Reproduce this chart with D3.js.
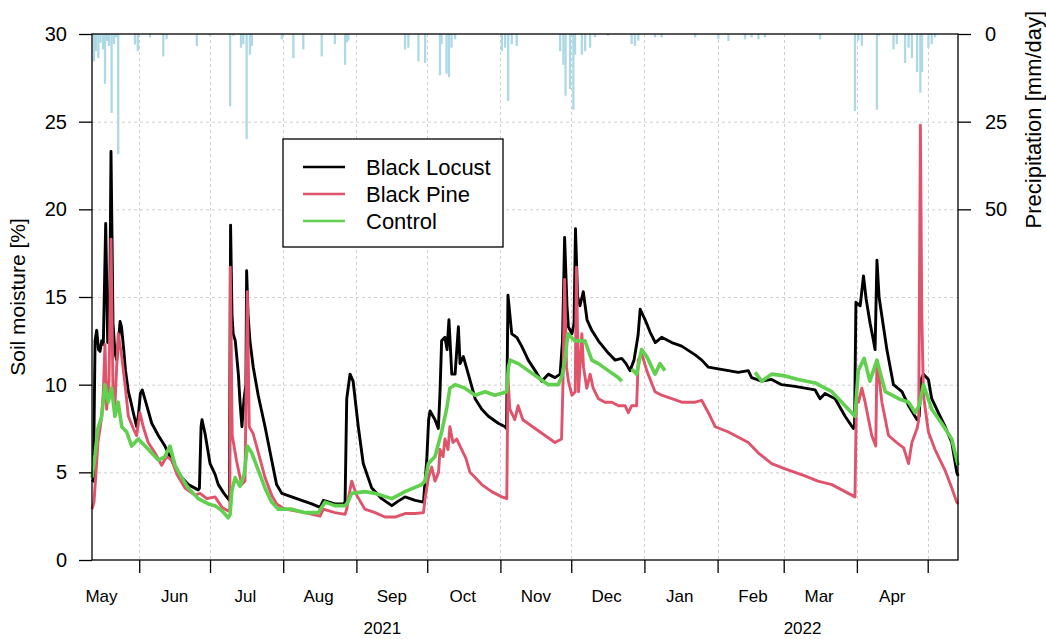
<!DOCTYPE html>
<html>
<head>
<meta charset="utf-8">
<script src="https://cdn.jsdelivr.net/npm/d3@7/dist/d3.min.js"></script>
<style>
  body { margin: 0; background: #fff; }
  svg { display: block; }
  text { font-family: "Liberation Sans", Arial, Helvetica, sans-serif; fill: #000; }
</style>
</head>
<body>
<svg id="chart" width="1046" height="639"></svg>
<script>
// Soil moisture (%) per site; time is given as days since 2021-05-12 (UTC)
const locustDay = [0,0.6,1.3,2.0,2.75,3.4,4.1,4.8,5.8,6.65,7.4,8.05,8.9,9.75,10.5,11.2,11.9,12.5,13.3,14.2,15.4,16.5,17.5,18.9,19.7,20.5,21.3,23.2,25.3,28.1,30.9,33.0,35.2,38.0,40.8,45.0,45.5,46.2,46.6,47.9,50.0,52.1,53.5,55.9,58.2,58.7,59.3,59.8,60.7,62.0,62.7,63.5,64.4,65.2,65.5,66.1,66.9,68.3,70.4,73.3,76.1,78.2,80.4,84.6,88.8,93.1,96.6,98.0,102.9,106.5,107.2,107.9,109.3,110.6,112.8,114.9,118.5,122.7,127.0,129.1,132.6,136.9,140.4,141.8,142.6,143.2,145.3,146.7,147.4,148.1,149.5,150.4,151.2,152.4,153.8,155.2,155.9,157.3,159.4,162.3,165.1,167.9,172.1,175.0,175.6,176.2,177.8,179.9,182.0,184.8,187.7,190.5,193.3,196.1,198.3,199.3,200.2,201.2,201.8,203.3,204.2,204.8,205.7,206.7,208.1,209.7,211.7,214.5,218.7,221.6,224.4,226.2,227.9,229.6,231.3,232.2,234.3,236.4,238.6,241.3,245.6,249.8,255.5,258.3,261.1,265.3,269.6,273.7,278.0,279.4,283.7,287.9,292.1,297.8,302.0,306.3,308.4,310.5,314.8,319.0,322.5,323.0,323.6,324.5,325.4,326.8,327.9,329.6,330.9,331.7,332.5,333.4,334.6,336.7,339.5,343.1,345.9,349.5,350.4,351.2,352.2,354.3,355.7,358.5,361.4,364.2,366.3,366.9];
const locustMoisture = [4.6,4.5,12.5,13.1,12.0,11.9,12.5,12.3,19.2,12.4,12.6,23.3,13.5,11.8,11.4,12.5,13.6,13.3,12.2,10.8,9.6,9.0,8.4,7.6,8.3,9.5,9.7,8.8,7.8,7.1,6.5,5.9,5.3,4.7,4.3,4.0,4.1,7.6,8.0,7.2,5.5,4.9,4.3,3.8,3.4,19.1,14.0,12.9,12.5,10.6,9.0,7.6,9.2,10.0,16.5,14.0,12.5,11.0,9.4,7.6,5.7,4.3,3.8,3.6,3.4,3.2,3.0,3.4,3.2,3.2,3.3,9.2,10.6,10.2,7.6,5.5,4.1,3.5,3.1,3.3,3.6,3.4,3.3,5.7,8.0,8.5,8.0,7.5,9.5,12.5,12.7,12.0,13.7,10.6,10.6,13.3,11.2,11.6,10.6,9.2,8.6,8.2,7.8,7.6,7.5,15.1,12.9,12.7,12.2,11.4,10.8,10.2,10.6,10.4,10.6,12.5,18.4,14.5,13.3,12.9,13.5,18.9,15.0,14.5,15.3,13.7,13.1,12.5,11.8,11.4,11.5,11.2,10.8,11.4,12.8,14.3,13.7,13.0,12.4,12.7,12.4,12.2,11.7,11.4,11.0,10.9,10.8,10.7,10.8,10.4,10.2,10.3,10.0,9.9,9.8,9.7,9.2,9.5,9.2,8.2,7.5,7.6,14.7,14.6,14.5,16.2,14.9,13.5,12.6,12.0,17.1,15.0,13.9,12.0,10.0,9.6,8.8,8.0,8.2,10.3,10.6,10.3,9.2,8.4,7.6,6.7,5.0,4.8];

const pineDay = [0,0.85,1.7,2.5,3.4,4.1,4.8,5.5,6.2,7.2,8.05,8.9,9.7,11.1,12.6,14.0,15.4,17.5,18.9,20.3,21.7,23.8,26.7,29.5,31.6,33.8,35.9,39.4,43.6,45.8,48.6,52.1,55.1,57.7,58.4,58.6,59.4,61.3,63.4,64.8,65.8,66.6,68.3,70.5,73.3,76.1,78.2,81.8,86.0,90.2,96.6,98.0,102.9,107.2,107.9,108.6,110.0,112.1,115.6,119.9,124.1,128.4,132.6,136.9,140.4,141.1,142.5,143.9,145.3,146.8,147.4,148.7,149.5,150.8,151.6,152.9,154.5,156.6,158.4,160.1,162.3,165.1,169.3,173.6,175.7,176.2,177.0,179.1,180.5,182.5,187.7,191.9,196.1,198.9,199.5,200.2,201.0,201.8,203.3,204.7,205.2,206.1,207.5,208.2,209.6,211.0,212.3,214.5,217.3,220.2,223.0,225.8,227.2,228.6,230.7,231.4,232.8,235.0,238.5,241.3,245.6,249.8,255.5,258.3,261.1,264.0,269.6,273.8,278.0,282.3,287.9,293.6,297.8,302.0,307.5,313.4,319.0,323.2,323.8,324.7,326.1,327.5,330.3,332.0,332.5,334.6,337.4,340.9,343.8,345.9,347.3,349.5,350.2,350.9,351.5,352.2,354.3,357.1,361.4,364.2,366.3,366.9];
const pineMoisture = [2.9,3.3,5.0,6.7,7.5,8.2,9.6,12.3,8.6,10.2,18.3,9.6,8.8,12.9,11.6,10.0,8.2,7.5,7.1,8.4,7.6,6.7,6.1,5.4,5.9,5.7,4.9,4.1,3.7,3.8,3.5,3.6,3.0,2.8,2.9,16.7,7.1,5.6,4.3,4.5,15.3,7.6,7.2,6.1,4.7,3.7,3.2,2.9,2.8,2.7,2.5,2.9,2.7,2.6,2.9,3.5,4.5,3.7,2.9,2.7,2.45,2.45,2.65,2.65,2.7,3.5,4.7,5.3,4.5,5.0,6.3,5.9,6.9,6.3,7.6,6.7,6.9,6.3,5.8,5.0,4.7,4.3,3.9,3.6,3.5,10.4,8.6,8.0,8.8,8.0,7.5,7.1,6.7,6.9,10.0,16.0,11.0,10.2,9.4,9.6,16.7,9.6,12.9,11.0,9.8,10.6,9.8,9.2,9.0,9.0,8.8,8.8,8.4,8.8,8.8,11.4,11.8,10.8,9.6,9.4,9.2,9.0,9.0,9.1,8.4,7.6,7.3,7.0,6.7,6.1,5.5,5.2,5.0,4.8,4.5,4.3,3.9,3.6,9.2,9.0,9.8,9.0,7.1,6.5,11.4,9.0,7.1,6.7,6.4,5.5,6.7,7.5,8.0,24.8,14.0,9.4,7.3,6.3,5.1,4.1,3.3,3.2];

// null marks days without readings from the control plot
const controlDay = [0,1.3,2.5,4.1,5.5,6.8,8.3,9.7,11.1,12.6,14.7,16.8,19.6,22.5,25.3,28.1,30.9,33.0,35.2,38.0,40.8,45.0,49.3,52.1,55.1,57.7,58.5,59.2,60.6,62.7,64.5,65.8,67.7,70.5,73.3,76.1,78.9,84.6,90.2,95.9,98.7,102.9,107.2,108.4,110.0,115.6,119.9,127.0,132.6,139.6,141.1,142.5,145.3,148.1,150.2,151.6,153.8,158.0,162.3,166.5,170.7,175.7,176.4,177.1,180.6,184.8,189.1,193.3,197.5,199.1,200.3,201.6,204.5,208.8,211.7,214.5,218.7,223.0,224.4,226.5,228.6,230.7,232.8,235.0,237.1,238.5,240.6,242.7,260.0,280.9,283.7,287.9,293.6,299.1,306.3,313.4,319.0,323.2,324.6,327.1,329.5,332.5,336.0,338.9,341.7,345.9,348.7,350.4,352.2,355.7,359.9,364.2,366.3,366.9];
const controlMoisture = [4.7,6.0,7.5,8.2,10.0,9.0,9.8,8.2,9.0,7.6,7.3,6.5,6.9,6.5,6.1,5.7,5.9,6.5,5.4,4.7,4.1,3.5,3.2,3.1,2.8,2.4,2.6,3.9,4.7,4.2,4.9,6.5,6.1,5.1,4.1,3.3,2.9,2.9,2.7,2.7,3.3,3.1,3.1,3.3,3.8,3.9,3.8,3.5,3.9,4.3,4.5,5.5,5.9,7.3,8.6,9.8,10.0,9.8,9.4,9.6,9.4,9.6,11.0,11.4,11.2,10.8,10.4,10.0,10.0,10.5,11.4,12.9,12.5,12.5,11.4,11.2,10.8,10.4,10.2,null,10.9,10.6,12.0,11.6,11.0,10.6,11.2,10.8,null,10.7,10.2,10.6,10.5,10.3,10.1,9.6,8.8,8.2,10.8,11.5,10.2,11.4,9.6,9.4,9.2,9.0,8.4,8.8,10.0,8.6,7.8,6.9,5.7,5.4];

// Daily precipitation (mm/day), same day count
const rainDay = [0.85,1.7,2.7,3.6,4.7,5.5,6.4,7.2,8.3,9.3,10.2,11.1,18.2,19.4,24.6,30.2,31.6,44.4,50.0,58.5,59.9,63.1,64.1,65.5,66.9,67.7,80.4,85.3,89.5,97.3,102.9,107.2,107.9,108.6,132.6,134.0,138.3,141.1,147.4,148.1,150.2,151.2,152.3,153.8,173.6,175.0,176.3,177.8,179.9,198.3,199.7,200.6,202.5,203.9,204.6,207.5,208.9,211.0,213.1,218.6,228.6,230.0,231.4,238.5,241.3,255.5,265.3,269.6,276.6,279.4,282.3,285.1,308.4,323.2,324.6,326.1,332.5,333.2,339.5,340.9,344.4,345.9,347.3,349.5,350.9,351.6,354.3,355.7,357.1];
const rainAmount = [7.8,4.9,6.9,2.5,4.4,14.2,2.0,3.4,22.5,2.9,1.0,34.3,3.0,4.9,1.0,6.4,1.5,3.4,0.5,20.6,0.5,3.9,2.9,29.9,5.9,3.4,1.5,6.9,4.4,6.4,2.9,8.8,2.4,1.9,4.4,3.9,7.8,8.3,11.8,2.9,11.3,12.3,3.9,1.5,4.9,3.9,19.1,2.9,3.4,4.9,8.8,17.6,15.7,21.6,5.9,5.9,4.9,3.9,1.0,0.5,2.9,3.4,1.9,1.0,1.0,1.0,1.5,2.0,1.5,1.0,1.5,1.0,1.5,22.0,1.9,3.4,21.6,0.5,4.4,2.9,8.3,3.9,6.9,10.8,16.7,10.8,3.9,2.9,1.0];

const moistureTicks = [0, 5, 10, 15, 20, 25, 30];
const rainTicks = [0, 25, 50];
const monthNames = ["May","Jun","Jul","Aug","Sep","Oct","Nov","Dec","Jan","Feb","Mar","Apr"];
const yearLabels = ["2021", "2022"];

const seriesNames = ["Black Locust", "Black Pine", "Control"];
const seriesColors = ["#000000", "#DF536B", "#61D04F"];

// ---- layout ----
const plot = { left: 92, right: 958, top: 34, bottom: 560 };
const DAY = 86400000;
const t0 = Date.UTC(2021, 4, 12);
const toDate = d => new Date(t0 + d * DAY);

const svg = d3.select("#chart");

const x = d3.scaleUtc()
  .domain([new Date(t0), new Date(Date.UTC(2022, 4, 13, 20))])
  .range([plot.left, plot.right]);
const y = d3.scaleLinear().domain([0, 30]).range([plot.bottom, plot.top]);
const yRain = d3.scaleLinear().domain([0, 150]).range([plot.top, plot.bottom]);

const monthStarts = d3.utcMonths(new Date(Date.UTC(2021, 5, 1)), new Date(Date.UTC(2022, 4, 2)));
const monthMids = d3.utcMonths(new Date(Date.UTC(2021, 4, 1)), new Date(Date.UTC(2022, 3, 2)))
  .map(m => new Date(Date.UTC(m.getUTCFullYear(), m.getUTCMonth(), 16)));

// ---- grid ----
const grid = svg.append("g").attr("stroke", "#cfcfcf").attr("stroke-width", 1).attr("stroke-dasharray", "3,3");
grid.selectAll("line.h").data(moistureTicks.slice(1, -1)).join("line")
  .attr("x1", plot.left).attr("x2", plot.right)
  .attr("y1", d => y(d) + 0.5).attr("y2", d => y(d) + 0.5);
grid.selectAll("line.v").data(monthStarts).join("line")
  .attr("x1", d => Math.round(x(d)) + 0.5).attr("x2", d => Math.round(x(d)) + 0.5)
  .attr("y1", plot.top).attr("y2", plot.bottom);

// ---- precipitation bars hanging from the top ----
svg.append("g").attr("stroke", "#ADD8E6").attr("stroke-width", 2.3)
  .selectAll("line").data(rainDay.map((d, i) => [toDate(d), rainAmount[i]])).join("line")
  .attr("x1", d => x(d[0])).attr("x2", d => x(d[0]))
  .attr("y1", yRain(0)).attr("y2", d => yRain(d[1]));

// ---- soil moisture lines ----
const line = d3.line()
  .defined(d => d[1] !== null)
  .x(d => x(d[0])).y(d => y(d[1]));
const series = [
  locustDay.map((d, i) => [toDate(d), locustMoisture[i]]),
  pineDay.map((d, i) => [toDate(d), pineMoisture[i]]),
  controlDay.map((d, i) => [toDate(d), controlMoisture[i]])
];
const widths = [2.9, 2.9, 3.6];
series.forEach((s, i) => {
  svg.append("path").datum(s)
    .attr("fill", "none")
    .attr("stroke", seriesColors[i])
    .attr("stroke-width", widths[i])
    .attr("stroke-linejoin", "round")
    .attr("d", line);
});

// ---- frame ----
svg.append("rect").attr("x", plot.left).attr("y", plot.top)
  .attr("width", plot.right - plot.left).attr("height", plot.bottom - plot.top)
  .attr("fill", "none").attr("stroke", "#000").attr("stroke-width", 1.3);

// ---- axes ----
const axL = svg.append("g").attr("transform", `translate(${plot.left},0)`)
  .call(d3.axisLeft(y).tickValues(moistureTicks).tickSize(13).tickPadding(12));
axL.select(".domain").remove();
axL.selectAll("text").attr("font-size", 20).attr("font-family", null);
axL.selectAll("line").attr("stroke-width", 1.3);

const axR = svg.append("g").attr("transform", `translate(${plot.right},0)`)
  .call(d3.axisRight(yRain).tickValues(rainTicks).tickSize(13).tickPadding(14));
axR.select(".domain").remove();
axR.selectAll("text").attr("font-size", 20).attr("font-family", null);
axR.selectAll("line").attr("stroke-width", 1.3);

const axB = svg.append("g").attr("transform", `translate(0,${plot.bottom})`)
  .call(d3.axisBottom(x).tickValues(monthStarts).tickSize(13).tickFormat(""));
axB.select(".domain").remove();
axB.selectAll("line").attr("stroke-width", 1.3);

svg.append("g").selectAll("text").data(monthMids).join("text")
  .attr("x", d => x(d)).attr("y", 602)
  .attr("text-anchor", "middle").attr("font-size", 17)
  .text((d, i) => monthNames[i]);

const yearPos = [new Date(Date.UTC(2021, 8, 12)), new Date(Date.UTC(2022, 2, 9))];
svg.append("g").selectAll("text").data(yearPos).join("text")
  .attr("x", d => x(d)).attr("y", 634)
  .attr("text-anchor", "middle").attr("font-size", 17)
  .text((d, i) => yearLabels[i]);

// ---- axis titles ----
svg.append("text")
  .attr("transform", `translate(25,${(plot.top + plot.bottom) / 2}) rotate(-90)`)
  .attr("text-anchor", "middle").attr("font-size", 21)
  .text("Soil moisture [%]");
svg.append("text")
  .attr("transform", `translate(1041,${yRain(25) - 2}) rotate(-90)`)
  .attr("text-anchor", "middle").attr("font-size", 22)
  .text("Precipitation [mm/day]");

// ---- legend ----
const lg = svg.append("g").attr("transform", "translate(283,139)");
lg.append("rect").attr("width", 220).attr("height", 108)
  .attr("fill", "#fff").attr("stroke", "#000").attr("stroke-width", 1.3);
seriesNames.forEach((name, i) => {
  const ly = 28 + i * 27;
  lg.append("line").attr("x1", 20).attr("x2", 62).attr("y1", ly).attr("y2", ly)
    .attr("stroke", seriesColors[i]).attr("stroke-width", 2.6);
  lg.append("text").attr("x", 83).attr("y", ly + 7.5).attr("font-size", 22).text(name);
});
</script>
</body>
</html>
